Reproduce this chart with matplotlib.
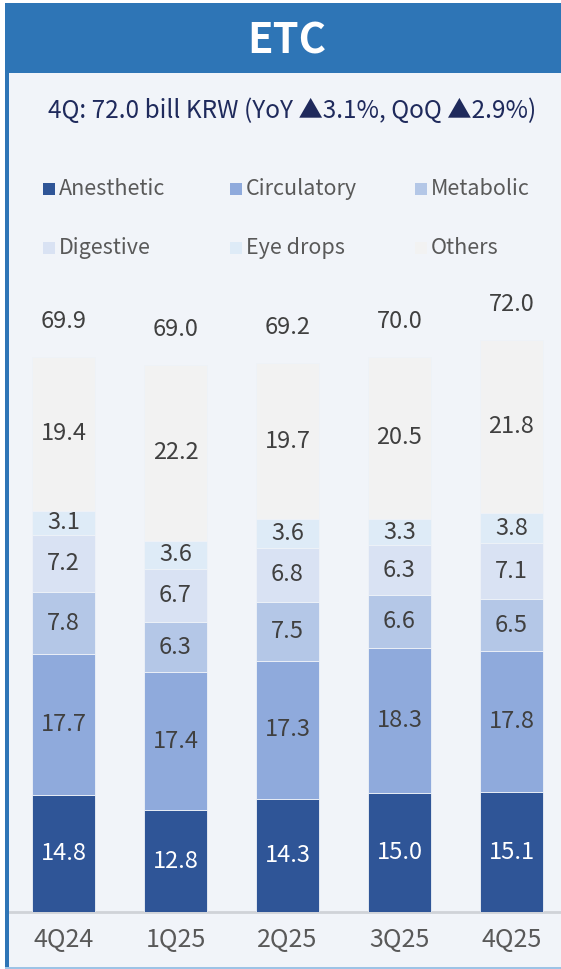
import matplotlib
matplotlib.use("Agg")
import matplotlib.pyplot as plt
from matplotlib.patches import Rectangle

plt.rcParams['font.family'] = ['Noto Sans CJK KR', 'DejaVu Sans']

quarters = ["4Q24", "1Q25", "2Q25", "3Q25", "4Q25"]
series_names = ["Anesthetic", "Circulatory", "Metabolic", "Digestive", "Eye drops", "Others"]
anesthetic = [14.8, 12.8, 14.3, 15.0, 15.1]
circulatory = [17.7, 17.4, 17.3, 18.3, 17.8]
metabolic = [7.8, 6.3, 7.5, 6.6, 6.5]
digestive = [7.2, 6.7, 6.8, 6.3, 7.1]
eye_drops = [3.1, 3.6, 3.6, 3.3, 3.8]
others = [19.4, 22.2, 19.7, 20.5, 21.8]
totals = [69.9, 69.0, 69.2, 70.0, 72.0]
title = "ETC"
subtitle = "4Q: 72.0 bill KRW (YoY \u25B23.1%, QoQ \u25B22.9%)"

series = [anesthetic, circulatory, metabolic, digestive, eye_drops, others]
colors = ["#2F5597", "#8FAADC", "#B4C7E7", "#D9E2F3", "#DEEBF7", "#F2F2F2"]
text_colors = ["white", "#404040", "#404040", "#404040", "#404040", "#404040"]

W, H = 561, 969
fig = plt.figure(figsize=(W / 100, H / 100), dpi=100)
fig.patch.set_facecolor("#F1F4F9")

def fx(px):
    return px / W

def fy(py):
    return 1 - py / H

# frame elements
fig.patches.append(Rectangle((0, 0), fx(5), 1, transform=fig.transFigure,
                             facecolor="white", edgecolor="none", zorder=0))
fig.patches.append(Rectangle((fx(0), fy(3)), 1, fy(0) - fy(3), transform=fig.transFigure,
                             facecolor="white", edgecolor="none", zorder=0))
fig.patches.append(Rectangle((fx(5), fy(73)), 1, fy(3) - fy(73), transform=fig.transFigure,
                             facecolor="#2E75B6", edgecolor="none", zorder=1))
fig.patches.append(Rectangle((fx(5), 0), fx(4), 1 - 3 / H, transform=fig.transFigure,
                             facecolor="#2E75B6", edgecolor="none", zorder=1))
fig.patches.append(Rectangle((fx(5), 0), 1, 2 / H, transform=fig.transFigure,
                             facecolor="#9DC3E6", edgecolor="none", zorder=1))

fig.text(fx(287), fy(41), title, color="white", fontsize=30, fontweight="bold",
         ha="center", va="center")
fig.text(fx(292), fy(111), subtitle, color="#1F2A5C", fontsize=17.5,
         ha="center", va="center")

# legend
leg_cols = [43, 230, 415]
leg_rows = [189, 248]
for i, name in enumerate(series_names):
    r, c = divmod(i, 3)
    x0 = leg_cols[c]
    y0 = leg_rows[r]
    fig.patches.append(Rectangle((fx(x0), fy(y0 + 6)), fx(12), 12 / H,
                                 transform=fig.transFigure, facecolor=colors[i],
                                 edgecolor="none", zorder=2))
    fig.text(fx(x0 + 16), fy(y0), name, color="#595959", fontsize=15.5,
             ha="left", va="center")

# axes
ppu = 112.0
xmin = -63.5 / ppu
xmax = xmin + W / ppu
base_px = 912
top_px = 290
ax = fig.add_axes([0, fy(base_px), 1, (base_px - top_px) / H])
ax.set_facecolor("none")
ymax = 78.4
ax.set_xlim(xmin, xmax)
ax.set_ylim(0, ymax)

x = list(range(len(quarters)))
bw = 63 / ppu
bottom = [0.0] * len(quarters)
for s, col, tc in zip(series, colors, text_colors):
    ax.bar(x, s, bw, bottom=bottom, color=col, edgecolor="#EEF2F8", linewidth=0.6, zorder=3)
    for i, v in enumerate(s):
        ax.text(x[i], bottom[i] + v / 2, f"{v:.1f}", color=tc, fontsize=17,
                ha="center", va="center", zorder=4)
    bottom = [b + v for b, v in zip(bottom, s)]

for i, t in enumerate(totals):
    ax.annotate(f"{t:.1f}", (x[i], bottom[i]), xytext=(0, 25.5), textcoords="offset points",
                color="#404040", fontsize=17, ha="center", va="center")

for sp in ["top", "right", "left"]:
    ax.spines[sp].set_visible(False)
ax.spines["bottom"].set_color("#D0D3D8")
ax.spines["bottom"].set_linewidth(2)
ax.spines["bottom"].set_bounds(xmin + 9 / ppu, xmax)
ax.set_yticks([])
ax.set_xticks(x)
ax.set_xticklabels(quarters, color="#595959", fontsize=18)
ax.tick_params(axis="x", length=0, pad=11)

fig.savefig("out.png", dpi=100, facecolor=fig.get_facecolor())
